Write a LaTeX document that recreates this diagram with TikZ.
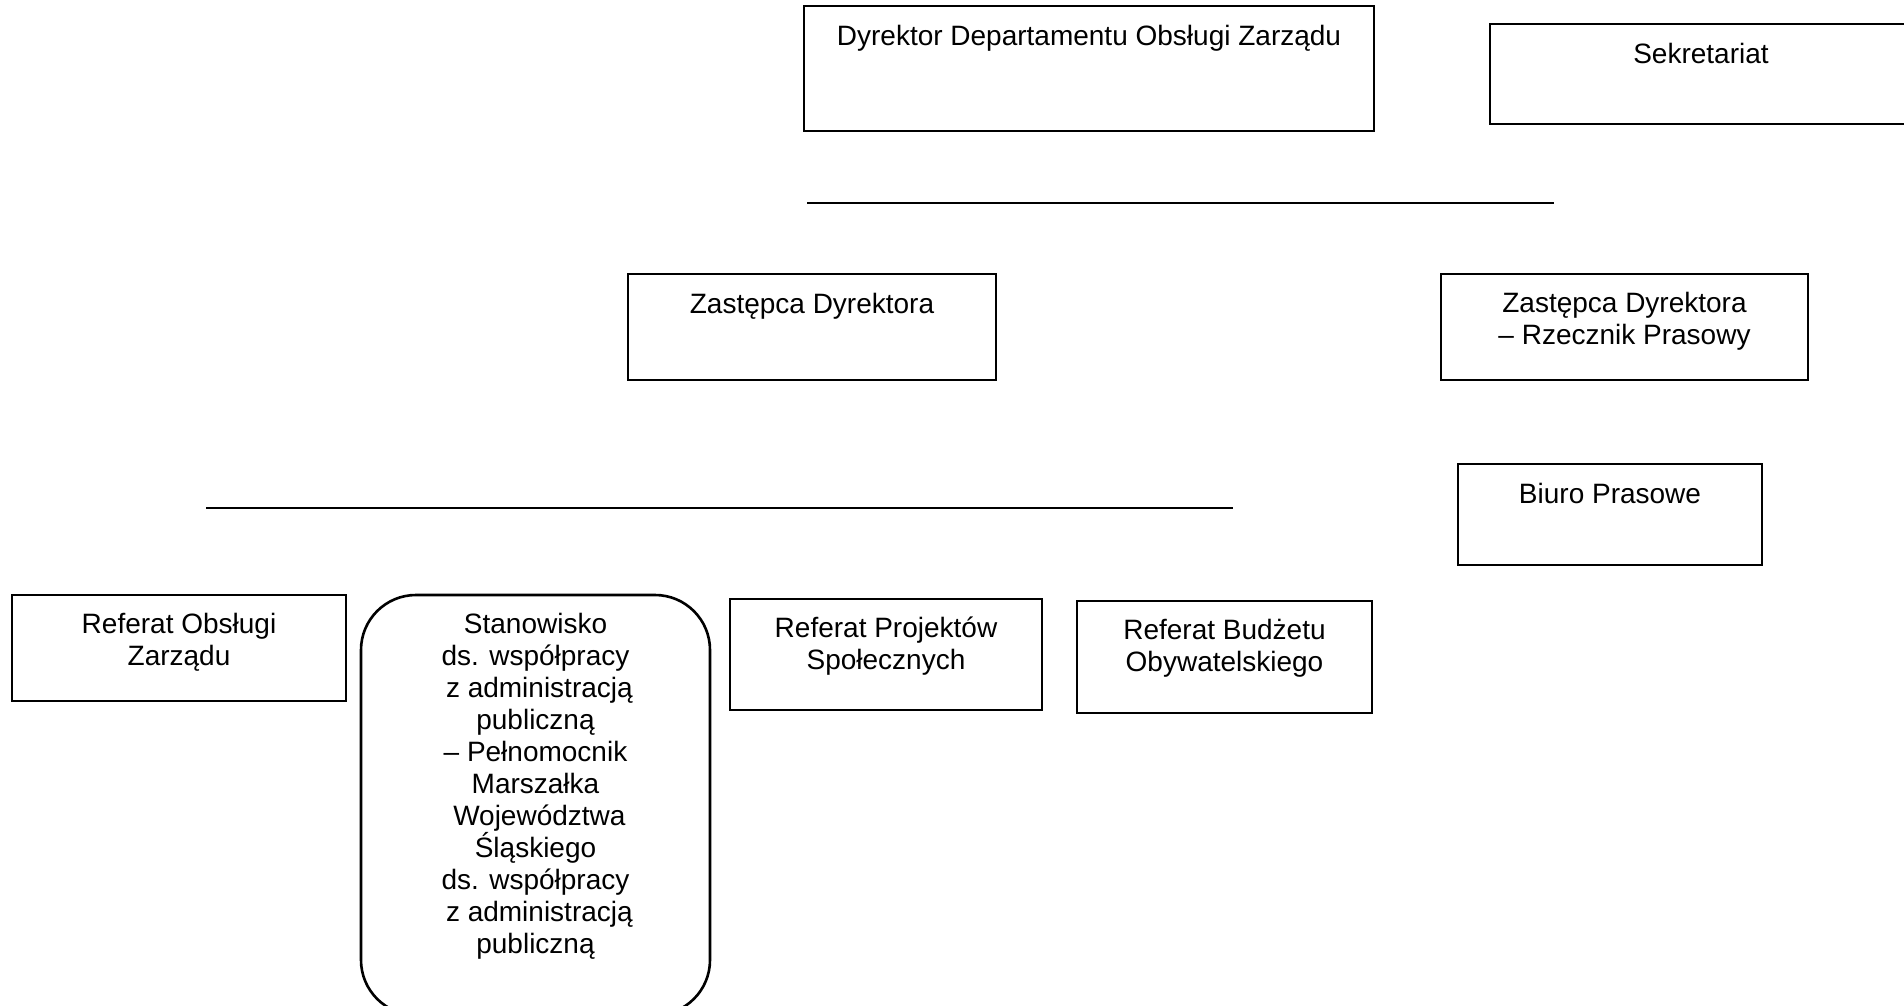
\documentclass[tikz,border=0pt]{standalone}
\usepackage{fontspec}
\setmainfont{Liberation Sans}
\usetikzlibrary{positioning}

\tikzset{
  unit/.style={draw, line width=2.6pt, inner sep=0pt, outer sep=0pt, anchor=north west},
  caption/.style={align=center, inner sep=0pt, font=\fontsize{28}{32}\selectfont,
    execute at begin node={\rule{0pt}{21pt}}},
}

\begin{document}
\begin{tikzpicture}[x=1pt,y=-1pt]
  \useasboundingbox (0,0) rectangle (1904,1006);

  \coordinate (h1a) at (807,203);
  \coordinate (h1b) at (1554,203);
  \coordinate (h2a) at (206,508);
  \coordinate (h2b) at (1233,508);

  \draw[line width=2pt] (h1a) -- (h1b);
  \draw[line width=2.4pt] (h2a) -- (h2b);

  \node[unit, minimum width=570pt, minimum height=125pt] (dyr) at (804,6) {};
  \node[unit, minimum width=422pt, minimum height=100pt] (sekr) at (1490,24) {};
  \node[unit, minimum width=368pt, minimum height=106pt] (zast) at (628,274) {};
  \node[unit, minimum width=367pt, minimum height=106pt] (rzecz) at (1441,274) {};
  \node[unit, minimum width=304pt, minimum height=101pt] (biuro) at (1458,464) {};
  \node[unit, minimum width=334pt, minimum height=106pt] (obsl) at (12,595) {};
  \node[unit, rounded corners=55pt, minimum width=349pt, minimum height=420pt] (stan) at (361,595) {};
  \node[unit, minimum width=312pt, minimum height=111pt] (proj) at (730,599) {};
  \node[unit, minimum width=295pt, minimum height=112pt] (budz) at (1077,601) {};

  \node[caption, below=18pt of dyr.north] (dyrt) {Dyrektor Departamentu Obsługi Zarządu};
  \node[caption, below=18pt of sekr.north] (sekrt) {Sekretariat};
  \node[caption, below=18pt of zast.north] (zastt) {Zastępca Dyrektora};
  \node[caption, below=18pt of rzecz.north] (rzeczt) {Zastępca Dyrektora\\– Rzecznik Prasowy};
  \node[caption, below=18pt of biuro.north] (biurot) {Biuro Prasowe};
  \node[caption, below=18pt of obsl.north] (obslt) {Referat Obsługi\\Zarządu};
  \node[caption, below=18pt of stan.north] (stant) {Stanowisko\\ds. współpracy\\\ z administracją\\publiczną\\– Pełnomocnik\\Marszałka\\\ Województwa\\Śląskiego\\ds. współpracy\\\ z administracją\\publiczną};
  \node[caption, below=18pt of proj.north] (projt) {Referat Projektów\\Społecznych};
  \node[caption, below=18pt of budz.north] (budzt) {Referat Budżetu\\Obywatelskiego};
\end{tikzpicture}
\end{document}
